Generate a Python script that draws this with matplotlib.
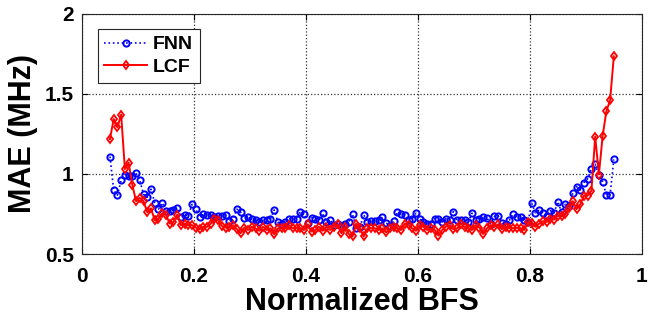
import numpy as np
import matplotlib
matplotlib.use('Agg')
import matplotlib.pyplot as plt

# Normalized BFS (136 samples from 0.05 to 0.95)
bfs = np.linspace(0.05, 0.95, 136)

mae_fnn = [1.108, 0.898, 0.867, 0.96, 0.996, 0.985, 0.985, 1.004, 0.96, 0.872,
           0.854, 0.904, 0.82, 0.78, 0.82, 0.77, 0.77, 0.775, 0.79, 0.73,
           0.745, 0.74, 0.81, 0.78, 0.73, 0.75, 0.745, 0.745, 0.73, 0.735,
           0.74, 0.745, 0.706, 0.72, 0.78, 0.76, 0.725, 0.73, 0.72, 0.71,
           0.70, 0.71, 0.71, 0.72, 0.775, 0.70, 0.69, 0.70, 0.72, 0.72,
           0.72, 0.765, 0.75, 0.695, 0.725, 0.72, 0.71, 0.755, 0.70, 0.71,
           0.68, 0.685, 0.675, 0.69, 0.70, 0.748, 0.66, 0.67, 0.745, 0.70,
           0.705, 0.705, 0.71, 0.73, 0.695, 0.675, 0.705, 0.76, 0.75, 0.745,
           0.71, 0.72, 0.755, 0.72, 0.70, 0.69, 0.69, 0.72, 0.72, 0.70,
           0.72, 0.71, 0.765, 0.71, 0.71, 0.71, 0.70, 0.755, 0.71, 0.72,
           0.73, 0.725, 0.69, 0.735, 0.74, 0.695, 0.685, 0.71, 0.75, 0.73,
           0.73, 0.715, 0.70, 0.817, 0.757, 0.773, 0.757, 0.735, 0.77, 0.757,
           0.827, 0.76, 0.81, 0.797, 0.88, 0.92, 0.90, 0.946, 0.97, 1.033,
           1.06, 0.99, 0.95, 0.87, 0.87, 1.09]

mae_lcf = [1.217, 1.342, 1.29, 1.37, 1.03, 1.07, 0.93, 0.83, 0.85, 0.83,
           0.76, 0.785, 0.71, 0.72, 0.754, 0.745, 0.69, 0.70, 0.745, 0.68,
           0.69, 0.68, 0.68, 0.665, 0.655, 0.67, 0.67, 0.69, 0.72, 0.71,
           0.675, 0.665, 0.67, 0.68, 0.655, 0.63, 0.665, 0.65, 0.67, 0.66,
           0.645, 0.67, 0.65, 0.66, 0.623, 0.66, 0.66, 0.66, 0.68, 0.66,
           0.665, 0.66, 0.65, 0.685, 0.64, 0.65, 0.67, 0.645, 0.67, 0.65,
           0.67, 0.685, 0.63, 0.67, 0.625, 0.61, 0.69, 0.66, 0.61, 0.66,
           0.66, 0.66, 0.65, 0.66, 0.635, 0.66, 0.67, 0.66, 0.65, 0.69,
           0.68, 0.66, 0.645, 0.68, 0.67, 0.65, 0.66, 0.65, 0.615, 0.65,
           0.67, 0.68, 0.655, 0.66, 0.69, 0.67, 0.66, 0.65, 0.68, 0.665,
           0.625, 0.66, 0.68, 0.67, 0.685, 0.655, 0.67, 0.665, 0.66, 0.665,
           0.66, 0.65, 0.70, 0.695, 0.67, 0.69, 0.705, 0.70, 0.72, 0.715,
           0.74, 0.735, 0.75, 0.785, 0.83, 0.78, 0.81, 0.865, 0.865, 0.895,
           1.233, 0.996, 1.237, 1.39, 1.46, 1.733]

plt.rcParams['font.family'] = ['Liberation Sans', 'DejaVu Sans']
plt.rcParams['font.weight'] = 'bold'

fig = plt.figure(figsize=(6.61, 3.22), dpi=100)
ax = fig.add_axes([0.124, 0.211, 0.847, 0.747])

ax.plot(bfs, mae_fnn, color='blue', ls=':', lw=1.2, marker='o', ms=4.5,
        mfc='none', mew=1.4, label='FNN')
ax.plot(bfs, mae_lcf, color='red', ls='-', lw=1.4, marker='d', ms=4.5,
        mfc='none', mew=1.3, label='LCF')

ax.set_xlim(0, 1)
ax.set_ylim(0.5, 2)
ax.set_xticks([0, 0.2, 0.4, 0.6, 0.8, 1])
ax.set_xticklabels(['0', '0.2', '0.4', '0.6', '0.8', '1'])
ax.set_yticks([0.5, 1, 1.5, 2])
ax.set_yticklabels(['0.5', '1', '1.5', '2'])
ax.tick_params(direction='in', labelsize=15, length=4, width=0.8,
               top=True, right=True, pad=6)
ax.tick_params(axis='x', pad=9)
ax.grid(True, ls=':', color='black', lw=0.9, alpha=0.8)
for s in ax.spines.values():
    s.set_linewidth(0.8)
    s.set_color('#262626')

ax.set_xlabel('Normalized BFS', fontsize=22, fontweight='bold', labelpad=1)
ax.set_ylabel('MAE (MHz)', fontsize=22, fontweight='bold', labelpad=5)

leg = ax.legend(loc='upper left', fontsize=14, fancybox=False,
                edgecolor='#262626', framealpha=1, handlelength=2.2,
                handletextpad=0.3, borderpad=0.35,
                borderaxespad=0.8, labelspacing=0.25)
leg.get_frame().set_linewidth(0.8)

fig.savefig('out.png', dpi=100)
